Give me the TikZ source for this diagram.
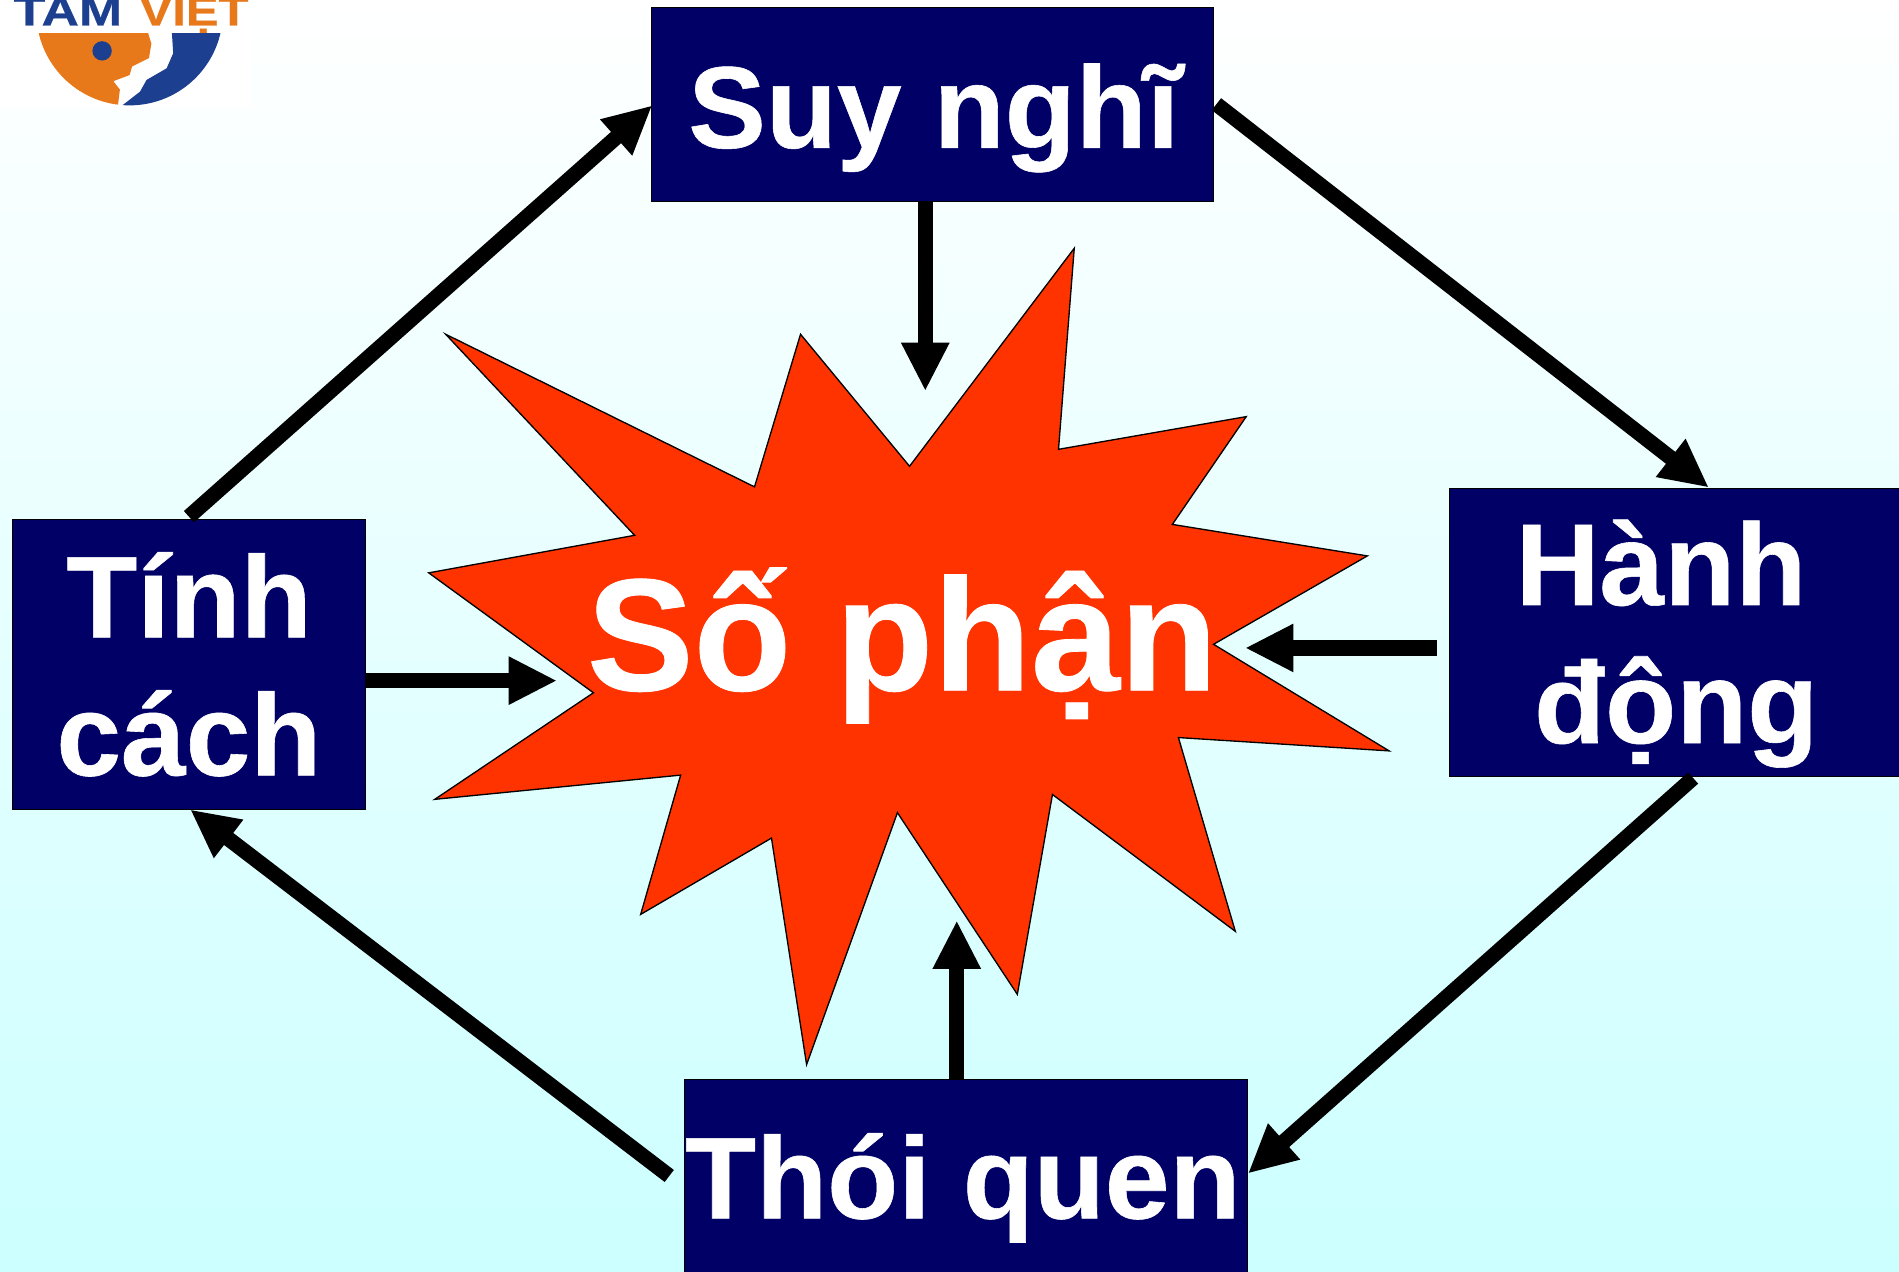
\documentclass[tikz,border=0pt]{standalone}
\usepackage{fontspec}
\setmainfont[BoldFeatures={FakeBold=0.5}]{Liberation Sans}
\usetikzlibrary{arrows.meta,calc}
\definecolor{navybox}{HTML}{000066}
\definecolor{burst}{HTML}{FF3300}
\definecolor{skyend}{HTML}{CCFFFF}
\definecolor{logoblue}{HTML}{1C3F8F}
\definecolor{logoorange}{HTML}{E8791A}
\tikzset{
  box/.style={draw=black,line width=0.8pt,fill=navybox,inner sep=0pt},
  boxtext/.style={text=white,inner sep=0pt,align=center,font=\bfseries\fontsize{96}{114}\selectfont},
  arr/.style={line width=12.5pt,draw=black,-{Triangle[length=40pt,width=37pt]}},
  logotext/.style={font=\bfseries\fontsize{34}{34}\selectfont,inner sep=0pt,anchor=base west}
}
\begin{document}
\begin{tikzpicture}[x=1pt,y=-1pt]
\useasboundingbox (0,0) rectangle (1568,1049.5);
\clip (0,0) rectangle (1568,1049.5);
\shade[top color=white,bottom color=skyend,shading angle=0] (0,0) rectangle (1568,1049.5);

% logo
\fill[white] (0,0) rectangle (208,88);
\begin{scope}
\clip (32,28) rectangle (183,88);
\clip (107,10) circle (77);
\fill[logoorange] (20,20) -- (122.5,20) -- (122.5,28) -- (125,36) -- (123,48) -- (109,55) -- (107,62)
  -- (93.6,67) -- (99,74) -- (97,90) -- (20,90) -- cycle;
\fill[logoblue] (142,20) -- (142,28) -- (143,44) -- (137.6,56.4) -- (121,66) -- (115.6,75.7) -- (101,87)
  -- (101,90) -- (190,90) -- (190,20) -- cycle;
\end{scope}
\fill[logoblue] (84.3,42) circle (8);
\node[logotext,text=logoblue,xscale=1.26] (tam) at (11,21) {TAM};
\node[logotext,text=logoorange,xscale=1.19] (viet) at (115,21) {VIỆT};

% burst
\draw[fill=burst,draw=black,line width=1.1pt,line join=miter]
 (368,276)--(623,402)--(661,276)--(751,385)--(887,205)--(874,371)--(1029,344)--(968,433)
 --(1129,459)--(1002,532)--(1147,620)--(973,609)--(1020,769)--(869,656)--(840,821)--(741,671)
 --(666,879)--(637,692)--(529,755)--(562,640)--(359,660)--(490,572)--(354,473)--(524,442)--cycle;
\node[text=white,inner sep=0pt,anchor=base,font=\bfseries\fontsize{132}{132}\selectfont] (fate) at (745,570) {Số phận};

% boxes
\node[box,minimum width=464pt,minimum height=160pt] (suy) at (770,86) {};
\node[boxtext,anchor=base] (suyt) at (771,122) {Suy nghĩ};
\node[box,minimum width=292pt,minimum height=239pt] (tinh) at (156,548.5) {};
\node[boxtext] (tinht) at (156,548.5) {Tính\\cách};
\node[box,minimum width=372pt,minimum height=238pt] (hanh) at (1383,522) {};
\node[boxtext] (hanht) at (1384,531.5) {\hspace*{-25pt}Hành\\động};
\node[box,minimum width=465pt,minimum height=160pt] (thoi) at (797.5,971) {};
\node[boxtext,anchor=base] (thoit) at (795,1006) {Thói quen};

% free ends near the burst
\coordinate (a1) at (764,323);
\coordinate (a2) at (460,562);
\coordinate (a3) at (1028,535);
\coordinate (a4) at (790,760);

\draw[arr] ($(suy.south)+(-6,0)$) -- (a1);
\draw[arr] ($(tinh.east)+(0,13.5)$) -- (a2);
\draw[arr] ($(hanh.west)+(-10,13)$) -- (a3);
\draw[arr] ($(thoi.north)+(-7.5,0)$) -- (a4);
\draw[arr] ($(tinh.north)+(0,-2)$) -- ($(suy.west)+(1,1)$);
\draw[arr] ($(suy.east)+(2,0)$) -- ($(hanh.north)+(28,0)$);
\draw[arr] ($(hanh.south)+(15,1)$) -- ($(thoi.east)+(0,-2)$);
\draw[arr] ($(thoi.west)+(-12,0)$) -- ($(tinh.south)+(1,0)$);
\end{tikzpicture}
\end{document}
